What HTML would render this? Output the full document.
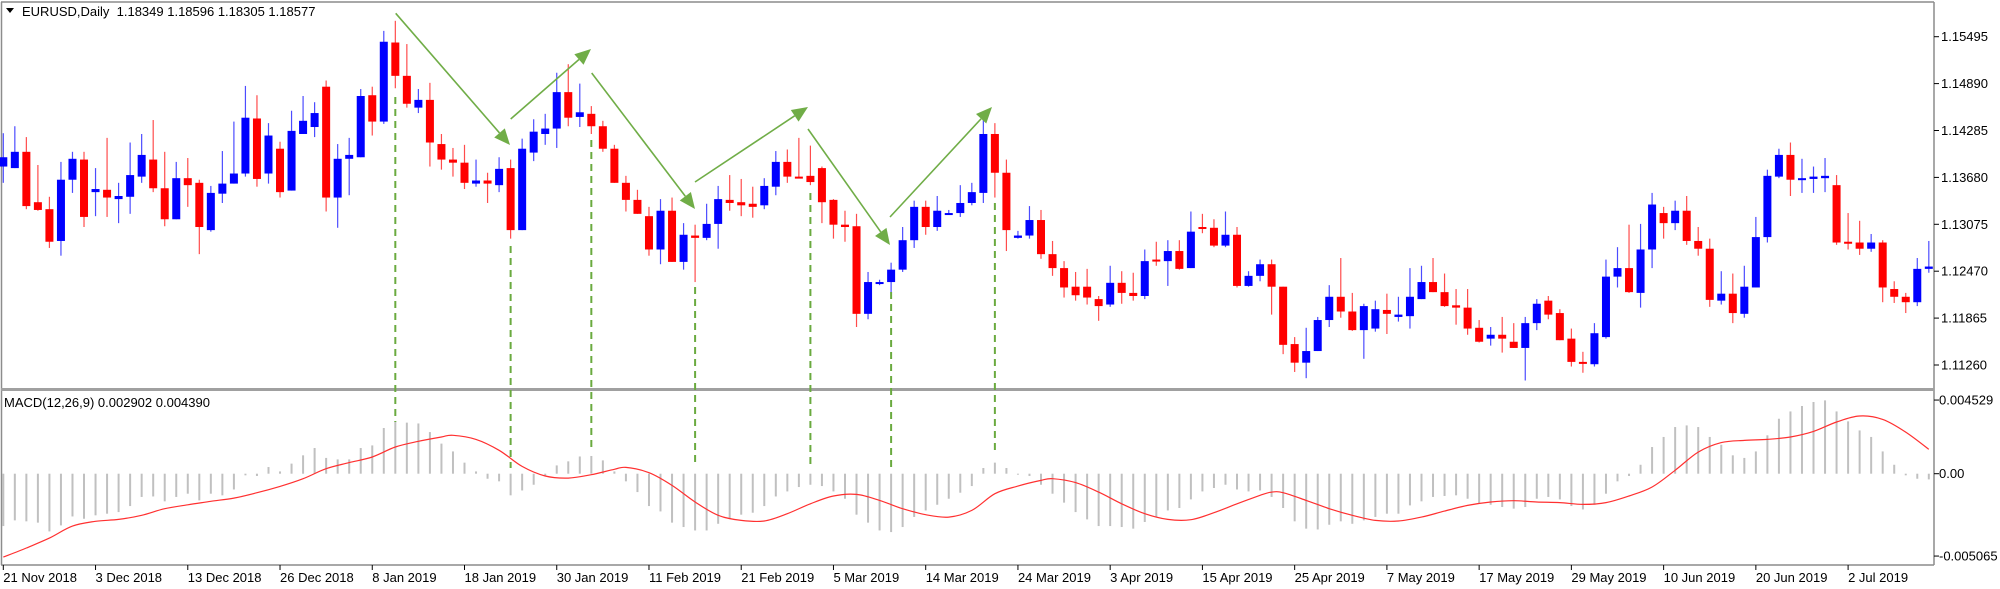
<!DOCTYPE html>
<html><head><meta charset="utf-8"><style>
html,body{margin:0;padding:0;background:#fff;}
svg{display:block;font-family:"Liberation Sans",sans-serif;}
</style></head><body>
<svg id="chart" width="2000" height="589" viewBox="0 0 2000 589" xmlns="http://www.w3.org/2000/svg">
<rect x="0" y="0" width="2000" height="589" fill="#fff"/>
<g id="frame" stroke="#8c8c8c" fill="none">
<line x1="1.5" y1="2" x2="1.5" y2="565" stroke-width="1.5"/>
<line x1="1" y1="2" x2="1934" y2="2" stroke-width="1.5"/>
<line x1="1934" y1="2" x2="1934" y2="565" stroke-width="1.5"/>
<line x1="1" y1="389.5" x2="1934" y2="389.5" stroke-width="3" stroke="#a0a0a0"/>
<line x1="1" y1="565" x2="1934" y2="565" stroke-width="1.5"/>
</g>
<g id="candles"></g>
<g id="macd"></g>
<g id="annot"></g>
<g id="axes" font-size="13" fill="#000"></g>
<text x="22" y="16" font-size="13" xml:space="preserve">EURUSD,Daily  1.18349 1.18596 1.18305 1.18577</text>
<path d="M6 8 L14 8 L10 13 Z" fill="#000"/>
<text x="4" y="407" font-size="13">MACD(12,26,9) 0.002902 0.004390</text>
</svg>
<script>
const openP=[1.1382,1.1380,1.1401,1.1336,1.1327,1.1286,1.1365,1.1391,1.1349,1.1352,
1.1340,1.1343,1.1369,1.1391,1.1354,1.1314,1.1367,1.1361,1.1300,1.1347,
1.1360,1.1373,1.1444,1.1373,1.1405,1.1351,1.1424,1.1433,1.1485,1.1342,
1.1392,1.1394,1.1474,1.1440,1.1542,1.1499,1.1458,1.1468,1.1411,1.1391,
1.1387,1.1360,1.1364,1.1358,1.1380,1.1300,1.1400,1.1424,1.1431,1.1478,
1.1446,1.1450,1.1434,1.1405,1.1361,1.1339,1.1318,1.1275,1.1325,1.1259,
1.1293,1.1290,1.1308,1.1339,1.1336,1.1334,1.1332,1.1356,1.1388,1.1369,
1.1370,1.1380,1.1339,1.1307,1.1305,1.1192,1.1231,1.1233,1.1249,1.1287,
1.1330,1.1304,1.1320,1.1322,1.1335,1.1348,1.1424,1.1374,1.1290,1.1293,
1.1313,1.1269,1.1251,1.1227,1.1227,1.1211,1.1204,1.1232,1.1219,1.1215,
1.1262,1.1260,1.1273,1.1251,1.1304,1.1303,1.1280,1.1294,1.1228,1.1241,
1.1256,1.1227,1.1153,1.1129,1.1144,1.1184,1.1214,1.1195,1.1171,1.1173,
1.1197,1.1188,1.1189,1.1211,1.1233,1.1220,1.1203,1.1200,1.1174,1.1160,
1.1165,1.1156,1.1148,1.1180,1.1209,1.1193,1.1160,1.1130,1.1127,1.1162,
1.1240,1.1251,1.1219,1.1275,1.1322,1.1309,1.1325,1.1286,1.1276,1.1209,
1.1218,1.1192,1.1226,1.1291,1.1369,1.1397,1.1365,1.1366,1.1367,1.1358,
1.1285,1.1284,1.1276,1.1284,1.1224,1.1214,1.1207,1.1250];
const highP=[1.1425,1.1434,1.1420,1.1384,1.1343,1.1388,1.1401,1.1401,1.1380,1.1419,
1.1361,1.1413,1.1424,1.1442,1.1401,1.1388,1.1393,1.1365,1.1357,1.1402,
1.1440,1.1486,1.1474,1.1438,1.1414,1.1454,1.1473,1.1465,1.1493,1.1411,
1.1419,1.1482,1.1485,1.1557,1.1570,1.1540,1.1482,1.1490,1.1424,1.1406,
1.1410,1.1391,1.1374,1.1394,1.1391,1.1418,1.1443,1.1450,1.1503,1.1514,
1.1489,1.1460,1.1441,1.1410,1.1370,1.1352,1.1330,1.1340,1.1342,1.1309,
1.1307,1.1334,1.1357,1.1371,1.1366,1.1356,1.1367,1.1402,1.1404,1.1419,
1.1409,1.1382,1.1340,1.1325,1.1321,1.1246,1.1236,1.1258,1.1304,1.1338,
1.1338,1.1344,1.1326,1.1358,1.1361,1.1447,1.1438,1.1391,1.1299,1.1331,
1.1326,1.1286,1.1260,1.1246,1.1250,1.1215,1.1254,1.1247,1.1245,1.1275,
1.1285,1.1287,1.1287,1.1324,1.1321,1.1314,1.1324,1.1304,1.1247,1.1262,
1.1262,1.1227,1.1162,1.1174,1.1188,1.1229,1.1264,1.1219,1.1205,1.1209,
1.1218,1.1214,1.1251,1.1254,1.1264,1.1244,1.1224,1.1224,1.1184,1.1175,
1.1188,1.1180,1.1188,1.1211,1.1215,1.1198,1.1173,1.1143,1.1180,1.1262,
1.1278,1.1307,1.1308,1.1348,1.1330,1.1338,1.1344,1.1304,1.1289,1.1247,
1.1244,1.1254,1.1317,1.1378,1.1405,1.1413,1.1392,1.1382,1.1393,1.1371,
1.1322,1.1312,1.1295,1.1287,1.1234,1.1219,1.1264,1.1286];
const lowP=[1.1361,1.1380,1.1327,1.1325,1.1277,1.1267,1.1348,1.1304,1.1318,1.1317,
1.1309,1.1321,1.1361,1.1349,1.1305,1.1314,1.1330,1.1269,1.1298,1.1335,
1.1360,1.1369,1.1356,1.1360,1.1342,1.1351,1.1424,1.1420,1.1324,1.1303,
1.1345,1.1394,1.1422,1.1437,1.1483,1.1458,1.1451,1.1382,1.1378,1.1369,
1.1353,1.1356,1.1335,1.1349,1.1289,1.1300,1.1389,1.1410,1.1406,1.1434,
1.1433,1.1424,1.1401,1.1361,1.1324,1.1321,1.1267,1.1256,1.1259,1.1249,
1.1233,1.1287,1.1276,1.1325,1.1318,1.1316,1.1327,1.1345,1.1361,1.1367,
1.1358,1.1309,1.1289,1.1285,1.1175,1.1185,1.1229,1.1220,1.1246,1.1277,
1.1294,1.1299,1.1320,1.1317,1.1332,1.1335,1.1342,1.1273,1.1289,1.1289,
1.1263,1.1241,1.1213,1.1209,1.1204,1.1183,1.1201,1.1205,1.1209,1.1211,
1.1254,1.1228,1.1249,1.1251,1.1296,1.1278,1.1278,1.1226,1.1227,1.1234,
1.1191,1.1140,1.1117,1.1109,1.1144,1.1175,1.1187,1.1170,1.1134,1.1169,
1.1166,1.1182,1.1173,1.1211,1.1220,1.1201,1.1178,1.1165,1.1155,1.1151,
1.1142,1.1148,1.1106,1.1171,1.1185,1.1158,1.1124,1.1116,1.1124,1.1160,
1.1226,1.1219,1.1200,1.1251,1.1289,1.1300,1.1281,1.1267,1.1201,1.1204,
1.1180,1.1187,1.1226,1.1284,1.1367,1.1344,1.1348,1.1348,1.1349,1.1281,
1.1275,1.1268,1.1272,1.1207,1.1206,1.1193,1.1202,1.1245];
const closeP=[1.1394,1.1401,1.1331,1.1326,1.1285,1.1365,1.1392,1.1317,1.1353,1.1342,
1.1344,1.1371,1.1397,1.1354,1.1314,1.1367,1.1358,1.1304,1.1348,1.1360,
1.1373,1.1445,1.1366,1.1422,1.1349,1.1428,1.1441,1.1451,1.1342,1.1392,
1.1397,1.1473,1.1440,1.1543,1.1499,1.1463,1.1468,1.1413,1.1391,1.1387,
1.1361,1.1364,1.1360,1.1379,1.1300,1.1405,1.1427,1.1431,1.1478,1.1445,
1.1452,1.1434,1.1405,1.1361,1.1339,1.1321,1.1275,1.1325,1.1259,1.1294,
1.1290,1.1308,1.1340,1.1335,1.1332,1.1330,1.1357,1.1388,1.1369,1.1367,
1.1362,1.1336,1.1307,1.1304,1.1192,1.1233,1.1233,1.1249,1.1287,1.1330,
1.1304,1.1325,1.1322,1.1335,1.1349,1.1424,1.1374,1.1300,1.1293,1.1313,
1.1269,1.1251,1.1226,1.1216,1.1213,1.1202,1.1232,1.1219,1.1215,1.1260,
1.1260,1.1273,1.1250,1.1298,1.1302,1.1280,1.1294,1.1228,1.1241,1.1256,
1.1227,1.1152,1.1129,1.1144,1.1184,1.1214,1.1195,1.1171,1.1202,1.1198,
1.1192,1.1191,1.1214,1.1233,1.1220,1.1202,1.1200,1.1173,1.1156,1.1165,
1.1160,1.1148,1.1180,1.1205,1.1191,1.1158,1.1130,1.1129,1.1167,1.1240,
1.1251,1.1220,1.1275,1.1333,1.1309,1.1325,1.1286,1.1276,1.1210,1.1218,
1.1193,1.1227,1.1291,1.1370,1.1397,1.1365,1.1367,1.1369,1.1370,1.1284,
1.1284,1.1276,1.1284,1.1226,1.1214,1.1207,1.1250,1.1253];
// MACD histogram in units of 1e-4
const macdHist=[-32.2,-28.7,-29.3,-30.1,-35.5,-31.8,-26.3,-27.7,-25.6,-24.6,
-23.6,-19.9,-14.3,-14.0,-17.0,-14.3,-12.3,-16.4,-12.3,-13.3,
-9.7,-1.0,-1.4,4.1,1.4,6.2,11.3,15.8,9.7,8.8,
8.8,15.8,17.4,28.1,32.2,31.4,30.9,25.6,18.5,13.7,
6.8,1.4,-3.1,-4.7,-13.3,-10.3,-6.8,-1.4,5.1,7.6,
10.6,10.9,8.2,1.4,-4.7,-11.3,-19.9,-23.2,-30.1,-32.8,
-34.9,-34.9,-30.8,-27.7,-25.2,-24.0,-19.9,-14.0,-10.9,-8.2,
-6.8,-7.6,-10.9,-15.4,-25.2,-30.1,-34.9,-35.9,-32.8,-26.6,
-22.6,-19.1,-15.4,-11.7,-7.6,3.5,6.8,3.5,-0.6,-1.4,
-6.8,-12.3,-17.8,-23.6,-28.1,-32.2,-32.2,-32.8,-33.8,-29.7,
-26.6,-22.6,-21.1,-15.8,-10.9,-8.8,-6.8,-9.7,-10.9,-10.3,
-14.3,-21.1,-29.3,-33.8,-34.3,-31.4,-29.3,-30.8,-28.7,-26.6,
-24.6,-24.6,-19.5,-17.0,-14.3,-13.7,-13.3,-15.4,-18.5,-19.1,
-20.5,-21.5,-20.5,-15.4,-14.3,-15.8,-19.9,-22.0,-19.1,-12.3,
-4.7,-1.4,5.5,16.4,22.6,28.7,29.7,28.7,22.6,17.8,
11.3,9.7,13.7,23.6,33.8,38.3,41.6,44.1,45.1,38.3,
32.2,26.6,22.6,13.7,5.5,-1.0,-3.1,-3.5];
// signal line samples (bar index, value in 1e-4)
const sigIdx=[0,2,4,6,8,10,12,14,16,18,20,22,24,26,28,30,32,34,36,38,39,41,43,45,47,49,51,53,54,56,58,60,62,64,66,68,70,72,74,76,78,80,82,84,86,88,90,91,93,95,97,99,101,103,105,107,109,110,111,113,115,117,119,121,123,125,127,129,131,133,135,137,139,141,143,145,147,149,151,153,155,157,159,161,163,165,167];
const sigVal=[-51.3,-45.7,-39.6,-32.2,-29.3,-28.1,-25.6,-21.5,-19.1,-17.0,-15.0,-11.7,-7.8,-3.1,3.1,6.8,10.3,16.4,19.9,22.6,23.6,21.1,14.4,4.5,-1.4,-2.7,-0.6,2.7,3.9,0.6,-7.2,-17.4,-25.6,-28.7,-29.1,-24.6,-18.5,-13.7,-12.7,-16.4,-21.5,-25.2,-26.7,-22.6,-12.3,-7.6,-4.1,-3.1,-5.5,-11.3,-18.5,-24.6,-28.1,-28.3,-24.0,-18.5,-13.3,-11.3,-11.7,-16.4,-21.5,-25.6,-28.7,-29.1,-26.7,-23.0,-19.5,-17.4,-16.6,-17.4,-17.8,-18.9,-17.8,-13.7,-8.2,2.1,13.3,19.1,20.5,21.1,22.6,26.0,31.8,35.5,33.4,25.6,15.0];
const priceTicks=[1.15495,1.14890,1.14285,1.13680,1.13075,1.12470,1.11865,1.11260];
const macdTickVals=[45.29,0,-50.65];
const macdTickLabels=["0.004529","0.00","-0.005065"];
const dateLabels=["21 Nov 2018","3 Dec 2018","13 Dec 2018","26 Dec 2018","8 Jan 2019","18 Jan 2019","30 Jan 2019","11 Feb 2019","21 Feb 2019","5 Mar 2019","14 Mar 2019","24 Mar 2019","3 Apr 2019","15 Apr 2019","25 Apr 2019","7 May 2019","17 May 2019","29 May 2019","10 Jun 2019","20 Jun 2019","2 Jul 2019"];
const dateBarStep=8;
const signalBars=[34,44,51,60,70,77,86];

const NS="http://www.w3.org/2000/svg";
const xOf=i=>3.3+i*11.53;
const yP=p=>36.7+(1.15495-p)*7752;
const yM=v=>473.7-v*1.626;
function mk(tag,attrs,parent){const e=document.createElementNS(NS,tag);for(const k in attrs)e.setAttribute(k,attrs[k]);parent.appendChild(e);return e;}

const gC=document.getElementById('candles');
for(let i=0;i<openP.length;i++){
  const bull=closeP[i]>=openP[i];
  const col=bull?'#0000ff':'#ff0000';
  const x=xOf(i);
  const g=mk('g',{},gC);
  
  
  const w=mk('line',{x1:x,x2:x,y1:yP(highP[i]),y2:yP(lowP[i]),stroke:col,'stroke-width':1.2,'stroke-opacity':0.7},g);
  
  
  const top=yP(Math.max(openP[i],closeP[i])),bot=yP(Math.min(openP[i],closeP[i]));
  const b=mk('rect',{x:x-4,y:top,width:8,height:Math.max(2,bot-top),fill:col},g);
  
  
}

const gM=document.getElementById('macd');
for(let i=0;i<macdHist.length;i++){
  const x=xOf(i);
  const l=mk('line',{x1:x,x2:x,y1:yM(0),y2:yM(macdHist[i]),stroke:'#c0c0c0','stroke-width':2},gM);
  
  
}
// smooth (Catmull-Rom) signal line through samples
const pts=sigIdx.map((b,k)=>[xOf(b),yM(sigVal[k])]);
let d='M'+pts[0][0].toFixed(1)+' '+pts[0][1].toFixed(1);
for(let k=0;k<pts.length-1;k++){
  const p0=pts[Math.max(0,k-1)],p1=pts[k],p2=pts[k+1],p3=pts[Math.min(pts.length-1,k+2)];
  const c1=[p1[0]+(p2[0]-p0[0])/6,p1[1]+(p2[1]-p0[1])/6];
  const c2=[p2[0]-(p3[0]-p1[0])/6,p2[1]-(p3[1]-p1[1])/6];
  d+=`C${c1[0].toFixed(1)} ${c1[1].toFixed(1)} ${c2[0].toFixed(1)} ${c2[1].toFixed(1)} ${p2[0].toFixed(1)} ${p2[1].toFixed(1)}`;
}
const sl=mk('path',{d:d,fill:'none',stroke:'#ff3030','stroke-width':1.2},gM);



// annotations
const gA=document.getElementById('annot');
const dashTop=[97,246,140,287,193,292,203];
const dashBot=[422,468,448,467,467,467,455];
for(let k=0;k<signalBars.length;k++){
  const x=xOf(signalBars[k]);
  const l=mk('line',{x1:x,x2:x,y1:dashTop[k],y2:dashBot[k],stroke:'#6aaa3f','stroke-width':2,'stroke-dasharray':'7 5'},gA);
  
  
}
const arrows=[[395.7,13.3,510,145],[510.7,119,591,49],[591.7,73,695,209],[695,182,808,107],[808,129,890,245],[890,217,992,107]];
arrows.forEach(a=>{
  const [x1,y1,x2,y2]=a;const ang=Math.atan2(y2-y1,x2-x1);const L=16,W=7;
  const bx=x2-L*Math.cos(ang),by=y2-L*Math.sin(ang);
  const g=mk('g',{},gA);
  
  
  mk('line',{x1:x1,y1:y1,x2:bx,y2:by,stroke:'#70ad47','stroke-width':1.6},g);
  const px=-Math.sin(ang),py=Math.cos(ang);
  mk('polygon',{points:`${x2},${y2} ${bx+px*W},${by+py*W} ${bx-px*W},${by-py*W}`,fill:'#70ad47'},g);
});

// axes
const gX=document.getElementById('axes');
priceTicks.forEach(p=>{
  const y=yP(p);
  const t=mk('line',{x1:1934,x2:1939,y1:y,y2:y,stroke:'#000','stroke-width':1},gX);
  
  
  const tx=mk('text',{x:1941,y:y+4.5},gX);tx.textContent=p.toFixed(5);
  
  
});
macdTickVals.forEach((v,k)=>{
  const y=yM(v);
  mk('line',{x1:1934,x2:1939,y1:y,y2:y,stroke:'#000','stroke-width':1},gX);
  const tx=mk('text',{x:1939,y:y+4.5},gX);tx.textContent=macdTickLabels[k];
  
  
});
dateLabels.forEach((s,k)=>{
  const x=xOf(k*dateBarStep);
  mk('line',{x1:x,x2:x,y1:565,y2:570,stroke:'#000','stroke-width':1},gX);
  const tx=mk('text',{x:x,y:582},gX);tx.textContent=s;
  
  
});
</script>
</body></html>
